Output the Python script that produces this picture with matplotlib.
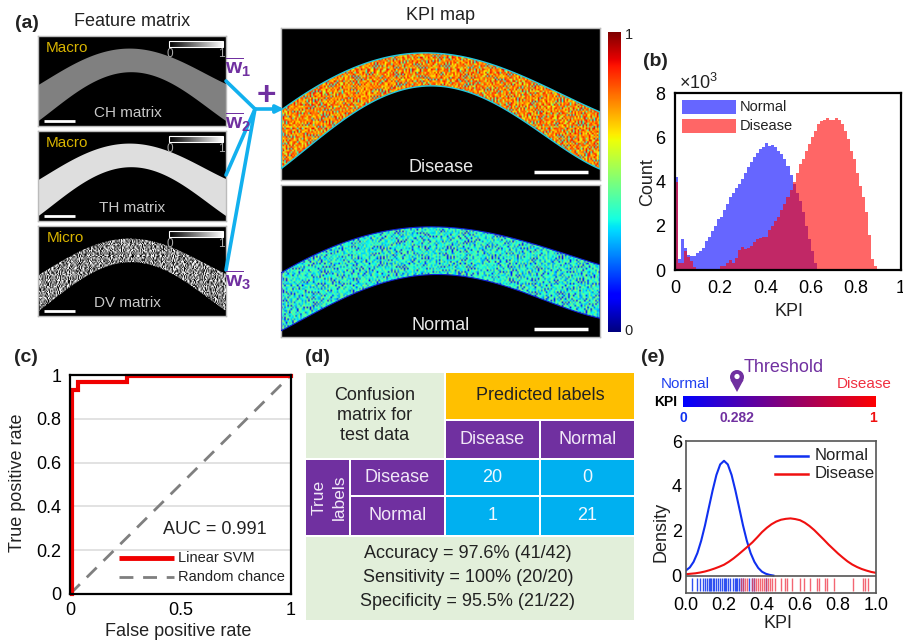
"""Composite figure: feature matrices, KPI maps, histogram, ROC, confusion table, density."""
import matplotlib
matplotlib.use("Agg")
import matplotlib.pyplot as plt
import numpy as np
from matplotlib.colors import LinearSegmentedColormap
from matplotlib.patches import Circle, FancyArrowPatch, Polygon, Rectangle

plt.rcParams["font.family"] = ["Liberation Sans", "DejaVu Sans"]
plt.rcParams["mathtext.fontset"] = "custom"
plt.rcParams["mathtext.rm"] = "Liberation Sans"
plt.rcParams["mathtext.bf"] = "Liberation Sans:bold"

W, H = 904, 643
PURPLE = "#7030A0"
CYAN = "#12B0EE"

# arch outlines (pixels inside each panel)
FEATURE_X = [0, 22, 45, 69, 92, 115, 139, 162, 188]
FEATURE_TOP = [49, 37, 23, 15, 13, 16, 23, 35, 48]
FEATURE_BOTTOM = [85, 70, 51, 40, 37, 40, 50, 66, 85]
DISEASE_TOP_X = [0, 29, 55, 89, 122, 149, 175, 205, 239, 272, 319]
DISEASE_TOP = [82, 63, 48, 33, 27, 25, 27, 35, 47, 62, 84]
DISEASE_BOTTOM_X = [0, 22, 45, 72, 99, 129, 155, 182, 209, 239, 272, 319]
DISEASE_BOTTOM = [141, 123, 105, 85, 70, 61, 59, 61, 72, 92, 113, 141]
NORMAL_X = [0, 29, 55, 89, 122, 155, 189, 222, 255, 289, 319]
NORMAL_TOP = [88, 72, 60, 50, 44, 42, 43, 52, 60, 70, 80]
NORMAL_BOTTOM = [146, 130, 117, 102, 93, 90, 92, 100, 112, 125, 133]

# speckle tiles and row shifts, typed by hand so the map texture is fixed
TEX_A = [[3, 8, 1, 6, 9, 2, 5],
         [7, 2, 9, 4, 0, 8, 3],
         [1, 6, 3, 8, 5, 1, 9],
         [9, 0, 7, 2, 6, 4, 2],
         [4, 5, 2, 9, 1, 7, 6]]
TEX_B = [[6, 1, 8, 3],
         [0, 9, 4, 7],
         [5, 2, 7, 1],
         [8, 4, 0, 9],
         [3, 7, 5, 2],
         [9, 1, 6, 4],
         [2, 8, 3, 6]]
TEX_C = [[5, 0, 7, 3, 9, 1, 6, 2, 8, 4, 7],
         [1, 8, 4, 6, 2, 9, 3, 7, 0, 5, 2],
         [9, 3, 6, 0, 5, 7, 1, 4, 8, 2, 6]]
ROW_SHIFT = [0, 5, 2, 9, 13, 4, 11, 7, 1, 16, 6, 3, 19, 8, 14, 10, 17]

# panel (b): 75 bins over 0-1, counts in thousands
NORMAL_COUNTS = [4.2, 0.5, 1.4, 1.0, 0.7, 0.65, 0.65, 0.75, 0.85, 1.0, 1.3, 1.5, 1.75, 2.0, 2.3,
                 2.4, 2.7, 3.0, 3.3, 3.5, 3.7, 3.9, 4.1, 4.4, 4.65, 4.9, 5.1, 5.3, 5.45, 5.55,
                 5.75, 5.6, 5.65, 5.55, 5.4, 5.25, 5.0, 4.7, 4.3, 3.9, 3.5, 3.1, 2.6, 2.0, 1.4,
                 0.85, 0.3, 0, 0, 0, 0, 0, 0, 0, 0, 0, 0, 0, 0, 0,
                 0, 0, 0, 0, 0, 0, 0, 0, 0, 0, 0, 0, 0, 0, 0]
DISEASE_COUNTS = [4.0, 0.3, 0.3, 0.85, 0.6, 0.4, 0.15, 0, 0, 0, 0, 0, 0, 0, 0,
                  0.2, 0.2, 0.3, 0.45, 0.3, 0.55, 0.9, 1.05, 0.95, 1.0, 1.1, 1.25, 1.4, 1.45, 1.5,
                  1.5, 1.8, 2.0, 2.2, 2.4, 2.7, 3.0, 3.3, 3.6, 4.0, 4.4, 4.8, 5.0, 5.4, 5.7,
                  6.0, 6.3, 6.6, 6.75, 6.8, 6.85, 6.8, 6.8, 6.85, 6.8, 6.6, 6.3, 5.9, 5.4, 5.0,
                  4.4, 3.8, 3.3, 2.6, 1.6, 0.5, 0.2, 0, 0, 0, 0, 0, 0, 0, 0]

# panel (c)
ROC_FPR = [0.008, 0.008, 0.035, 0.035, 0.26, 0.26, 1.0]
ROC_TPR = [0.0, 0.93, 0.93, 0.97, 0.97, 0.995, 0.995]
CHANCE = [0, 1]

# panel (d): x0, y0, x1, y1, colour, text, text colour
CELLS = [
    (306, 373, 444, 458, "#E2EFDA", "Confusion\nmatrix for\ntest data", "#222222"),
    (446, 373, 634, 419, "#FFC000", "Predicted labels", "#222222"),
    (446, 421, 539, 458, PURPLE, "Disease", "#F1E8F7"),
    (541, 421, 634, 458, PURPLE, "Normal", "#F1E8F7"),
    (351, 460, 444, 495, PURPLE, "Disease", "#F1E8F7"),
    (351, 497, 444, 535, PURPLE, "Normal", "#F1E8F7"),
    (446, 460, 539, 495, "#00B0F0", "20", "#F0F8FF"),
    (541, 460, 634, 495, "#00B0F0", "0", "#F0F8FF"),
    (446, 497, 539, 535, "#00B0F0", "1", "#F0F8FF"),
    (541, 497, 634, 535, "#00B0F0", "21", "#F0F8FF"),
]
METRICS = ["Accuracy = 97.6% (41/42)", "Sensitivity = 100% (20/20)", "Specificity = 95.5% (21/22)"]

# panel (e)
KDE_NORMAL_X = [0, .02, .04, .06, .08, .1, .12, .14, .16, .18, .2, .22, .24, .26, .28, .3, .32,
                .34, .36, .38, .4, .42, .44, .46]
KDE_NORMAL_Y = [.25, .38, .63, 1.02, 1.57, 2.25, 3.03, 3.8, 4.49, 4.96, 5.12, 4.96, 4.49, 3.8,
                3.03, 2.25, 1.57, 1.02, .63, .36, .19, .1, .05, .02]
KDE_DISEASE_X = [0, .025, .05, .075, .1, .125, .15, .175, .2, .225, .25, .275, .3, .325, .35,
                 .375, .4, .425, .45, .475, .5, .525, .55, .575, .6, .625, .65, .675, .7, .725,
                 .75, .775, .8, .825, .85, .875, .9, .925, .95, .975, 1.0]
KDE_DISEASE_Y = [.08, .1, .12, .155, .2, .26, .33, .41, .5, .63, .78, .95, 1.13, 1.31, 1.5, 1.72,
                 1.95, 2.14, 2.3, 2.42, 2.5, 2.54, 2.56, 2.53, 2.48, 2.37, 2.22, 2.04, 1.83, 1.62,
                 1.4, 1.2, 1.0, .82, .65, .51, .4, .31, .24, .18, .14]
RUG_NORMAL = [.03, .06, .075, .09, .1, .11, .12, .125, .13, .14, .15, .16, .17, .18, .19, .2,
              .205, .21, .22, .23, .25, .26, .265, .27, .28, .29, .3, .33, .35, .36, .42]
RUG_DISEASE = [.29, .3, .31, .32, .35, .36, .37, .38, .39, .4, .41, .42, .43, .44, .45, .47, .5,
               .52, .53, .56, .6, .62, .65, .69, .7, .73, .74, .78, .88, .93, .94, .96]


def px_axes(fig, x0, y0, x1, y1):
    return fig.add_axes([x0 / W, 1 - y1 / H, (x1 - x0) / W, (y1 - y0) / H])


def speckle(rows, cols):
    a = np.array(TEX_A, float)
    b = np.array(TEX_B, float)
    c = np.array(TEX_C, float)
    t = (np.tile(a, (rows // 5 + 1, cols // 7 + 1))[:rows, :cols]
         + np.tile(b, (rows // 7 + 1, cols // 4 + 1))[:rows, :cols]
         + np.tile(c, (rows // 3 + 1, cols // 11 + 1))[:rows, :cols])
    for r in range(rows):
        t[r] = np.roll(t[r], ROW_SHIFT[r % len(ROW_SHIFT)] * (r // 3 + 1))
    t = (t - t.min()) / (t.max() - t.min())
    return np.clip((t - 0.25) / 0.5, 0, 1)


def arch_polygon(top_x, top, bottom_x, bottom, width, **kw):
    fine = np.linspace(0, width, 120)
    up = np.polyval(np.polyfit(top_x, top, 4), fine)
    low = np.polyval(np.polyfit(bottom_x, bottom, 4), fine)
    return Polygon(np.r_[np.c_[fine, up], np.c_[fine[::-1], low[::-1]]], closed=True, **kw)


def image_panel(fig, box):
    ax = px_axes(fig, *box)
    ax.set_facecolor("black")
    ax.set_xlim(0, box[2] - box[0])
    ax.set_ylim(box[3] - box[1], 0)
    ax.set_xticks([])
    ax.set_yticks([])
    for s in ax.spines.values():
        s.set_color("#bbbbbb")
        s.set_linewidth(1.0)
    return ax


def feature_panel(fig, top_y, tag, matrix, grey, tag_x, label_x):
    ax = image_panel(fig, (38, top_y, 226, top_y + 90))
    poly = arch_polygon(FEATURE_X, FEATURE_TOP, FEATURE_X, FEATURE_BOTTOM, 188, facecolor="none", edgecolor="none")
    ax.add_patch(poly)
    if grey is None:
        im = ax.imshow(speckle(75, 170), cmap="gray", vmin=0.3, vmax=0.7,
                       extent=(0, 188, 90, 0), aspect="auto", interpolation="bilinear")
    else:
        im = ax.imshow([[grey]], cmap="gray", vmin=0, vmax=1, extent=(0, 188, 90, 0), aspect="auto")
    im.set_clip_path(poly)
    ax.set_xlim(0, 188)
    ax.set_ylim(90, 0)
    ax.text(tag_x, 12, tag, color="#D8B400", fontsize=11, ha="left", va="center")
    ax.text(label_x, 77, matrix, color="#c8c8c8", fontsize=11, ha="center", va="center")
    ax.plot([6, 37], [85, 85], color="white", lw=2, solid_capstyle="butt")
    bar = np.linspace(0, 1, 60)[None, :]
    ax.imshow(bar, cmap="gray", extent=(131, 185, 11, 5), aspect="auto")
    ax.add_patch(Rectangle((131, 5), 54, 6, fc="none", ec="white", lw=0.8))
    ax.set_xlim(0, 188)
    ax.set_ylim(90, 0)
    ax.text(132, 18, "0", color="#aaaaaa", fontsize=8.5, ha="center", va="center")
    ax.text(183, 18, "1", color="#aaaaaa", fontsize=8.5, ha="center", va="center")


def map_panel(fig, box, poly, low, span, power, label):
    ax = image_panel(fig, box)
    w, h = box[2] - box[0], box[3] - box[1]
    ax.add_patch(poly)
    im = ax.imshow(low + span * speckle(90, 200) ** power, cmap="jet", vmin=0, vmax=1,
                   extent=(0, w, h, 0), aspect="auto", interpolation="bilinear")
    im.set_clip_path(poly)
    ax.set_xlim(0, w)
    ax.set_ylim(h, 0)
    ax.text(160, h - 12, label, color="#e8e8e8", fontsize=13, ha="center", va="center")
    ax.plot([253, 307], [h - 8, h - 8], color="white", lw=2.5, solid_capstyle="butt")


def main():
    fig = plt.figure(figsize=(W / 100, H / 100), dpi=100)

    feature_panel(fig, 36, "Macro", "CH matrix", 0.5, 8, 90)
    feature_panel(fig, 131, "Macro", "TH matrix", 0.87, 8, 94)
    feature_panel(fig, 226, "Micro", "DV matrix", None, 9, 89)
    map_panel(fig, (281, 28, 600, 180),
              arch_polygon(DISEASE_TOP_X, DISEASE_TOP, DISEASE_BOTTOM_X, DISEASE_BOTTOM, 319,
                           facecolor="none", edgecolor="#22C8E0", lw=1.0, zorder=3),
              0.40, 0.50, 0.5, "Disease")
    map_panel(fig, (281, 185, 600, 337),
              arch_polygon(NORMAL_X, NORMAL_TOP, NORMAL_X, NORMAL_BOTTOM, 319,
                           facecolor="none", edgecolor="#1020D0", lw=0.8, zorder=3),
              0.14, 0.38, 0.6, "Normal")

    cax = px_axes(fig, 608, 32, 621, 332)
    cax.imshow(np.linspace(1, 0, 256)[:, None], cmap="jet", aspect="auto")
    cax.set_xticks([])
    cax.set_yticks([])
    for s in cax.spines.values():
        s.set_visible(False)

    # (b)
    ax = px_axes(fig, 675, 93, 901, 270)
    edges = np.arange(75) / 75
    ax.bar(edges, NORMAL_COUNTS, width=1 / 75, align="edge", color=(0, 0, 1, 0.6), lw=0)
    ax.bar(edges, DISEASE_COUNTS, width=1 / 75, align="edge", color=(1, 0, 0, 0.6), lw=0)
    ax.set_xlim(0, 1)
    ax.set_ylim(0, 8)
    ax.set_xticks([0, .2, .4, .6, .8, 1], ["0", "0.2", "0.4", "0.6", "0.8", "1"])
    ax.set_yticks([0, 2, 4, 6, 8])
    ax.tick_params(length=0, labelsize=13, pad=7)
    for s in ax.spines.values():
        s.set_linewidth(1.6)

    # (c)
    ax = px_axes(fig, 70, 375, 291, 594)
    ax.grid(axis="y", color="#dddddd", lw=1.2)
    ax.set_axisbelow(True)
    ax.plot(CHANCE, CHANCE, color="#7f7f7f", lw=2, dashes=(5, 3.5))
    ax.plot(ROC_FPR, ROC_TPR, color="#f00000", lw=3, solid_joinstyle="miter", clip_on=False)
    ax.set_xlim(0, 1)
    ax.set_ylim(0, 1)
    ax.set_xticks([0, .5, 1], ["0", "0.5", "1"])
    ax.set_yticks([0, .2, .4, .6, .8, 1], ["0", "0.2", "0.4", "0.6", "0.8", "1"])
    ax.tick_params(length=0, labelsize=13, pad=6)
    for s in ax.spines.values():
        s.set_linewidth(1.6)

    # (e)
    ax = px_axes(fig, 686, 441, 876, 593)
    ax.plot(KDE_NORMAL_X, KDE_NORMAL_Y, color="#1030F0", lw=1.5)
    ax.plot(KDE_DISEASE_X, KDE_DISEASE_Y, color="#F01010", lw=1.5)
    ax.vlines(RUG_NORMAL, -0.68, -0.1, color="#3050F0", lw=1.0)
    ax.vlines(RUG_DISEASE, -0.68, -0.1, color="#F04050", lw=1.0, alpha=0.8)
    ax.axhline(0, color="#555555", lw=1.2)
    ax.set_xlim(0, 1)
    ax.set_ylim(-0.756, 6)
    ax.set_xticks([0, .2, .4, .6, .8, 1], ["0.0", "0.2", "0.4", "0.6", "0.8", "1.0"])
    ax.set_yticks([0, 2, 4, 6])
    ax.tick_params(length=0, labelsize=13, pad=3)
    for s in ax.spines.values():
        s.set_color("#555555")
        s.set_linewidth(1.2)

    # everything placed by pixel goes on one overlay
    ov = fig.add_axes([0, 0, 1, 1], zorder=10)
    ov.set_xlim(0, W)
    ov.set_ylim(H, 0)
    ov.axis("off")
    ov.patch.set_alpha(0)

    def label(x, y, s, size=13, color="#222222", **kw):
        ov.text(x, y, s, fontsize=size, color=color, ha=kw.pop("ha", "center"), va="center", **kw)

    for x, y, s in [(27, 23, "(a)"), (655, 62, "(b)"), (26, 357, "(c)"), (317, 358, "(d)"), (653, 358, "(e)")]:
        label(x, y, s, size=14, fontweight="bold")
    label(132, 22, "Feature matrix")
    label(441, 16, "KPI map")
    label(629, 35, "1", size=10.5)
    label(629, 331, "0", size=10.5)

    # connector lines and weights
    for y0 in (81, 175, 270):
        ov.plot([226, 255], [y0, 109], color=CYAN, lw=2.6, solid_capstyle="round")
    ov.add_patch(FancyArrowPatch((255, 109), (284, 109), arrowstyle="-|>", mutation_scale=11, color=CYAN, lw=2.6, shrinkA=0, shrinkB=0))
    label(266, 96, "+", size=24, color=PURPLE, fontweight="bold")
    for y, n in [(67, 1), (122, 2), (280, 3)]:
        label(238, y, rf"$\overline{{\mathbf{{w}}}}_{{\mathbf{{{n}}}}}$", size=15, color=PURPLE)

    # (b) annotation
    label(699, 83, r"$\times10^3$", size=13)
    label(648, 182, "Count", rotation=90)
    label(789, 311, "KPI")
    for y, c, s in [(107, (0, 0, 1, 0.6), "Normal"), (126, (1, 0, 0, 0.6), "Disease")]:
        ov.add_patch(Rectangle((682, y - 7), 54, 14, fc=c, ec="none"))
        label(740, y, s, size=10.5, ha="left")

    # (c) annotation
    label(18, 483, "True positive rate", rotation=90)
    label(178, 632, "False positive rate")
    label(215, 530, "AUC = 0.991")
    ov.plot([119, 174], [558, 558], color="#f00000", lw=3.5, solid_capstyle="butt")
    ov.plot([119, 174], [577, 577], color="#7f7f7f", lw=2, dashes=(5, 3.5))
    label(178, 558, "Linear SVM", size=10.5, ha="left")
    label(178, 577, "Random chance", size=10.5, ha="left")

    # (d)
    ov.add_patch(Rectangle((306, 460), 43, 75, fc=PURPLE, ec="none"))
    ov.add_patch(Rectangle((306, 537), 328, 83, fc="#E2EFDA", ec="none"))
    for x0, y0, x1, y1, fc, text, tc in CELLS:
        ov.add_patch(Rectangle((x0, y0), x1 - x0, y1 - y0, fc=fc, ec="none"))
        label((x0 + x1) / 2, (y0 + y1) / 2, text, color=tc, linespacing=1.25)
    label(329, 497, "True\nlabels", size=12.5, color="#F1E8F7", rotation=90, linespacing=1.45)
    for y, s in zip((553, 578, 602), METRICS):
        label(468, y, s)

    # (e) annotation
    gradient = LinearSegmentedColormap.from_list("kpi", ["#0000FF", "#FF0000"])
    bar_ax = px_axes(fig, 683, 396, 876, 407)
    bar_ax.imshow(np.linspace(0, 1, 256)[None, :], cmap=gradient, aspect="auto")
    bar_ax.axis("off")
    label(666, 402, "KPI", size=10, color="black", fontweight="bold")
    label(683, 418, "0", size=10, color="#1030F0", fontweight="bold")
    label(737, 418, "0.282", size=10, color=PURPLE, fontweight="bold")
    label(873, 418, "1", size=10, color="#F01010", fontweight="bold")
    label(685, 384, "Normal", size=11, color="#2040F0")
    label(864, 384, "Disease", size=11, color="#F03040")
    label(784, 367, "Threshold", size=13, color=PURPLE)
    ov.add_patch(Circle((737, 377), 7, fc=PURPLE, ec="none"))
    ov.add_patch(Polygon([(730.5, 380), (743.5, 380), (737, 392)], closed=True, fc=PURPLE, ec="none"))
    ov.add_patch(Circle((737, 376.5), 2.6, fc="white", ec="none"))
    label(661, 532, "Density", rotation=90)
    label(778, 624, "KPI")
    ov.plot([775, 808], [456, 456], color="#1030F0", lw=1.8)
    ov.plot([775, 808], [474, 474], color="#F01010", lw=1.8)
    label(815, 456, "Normal", size=12, ha="left")
    label(815, 474, "Disease", size=12, ha="left")

    fig.savefig("out.png", dpi=100)
    plt.close(fig)


if __name__ == "__main__":
    main()
